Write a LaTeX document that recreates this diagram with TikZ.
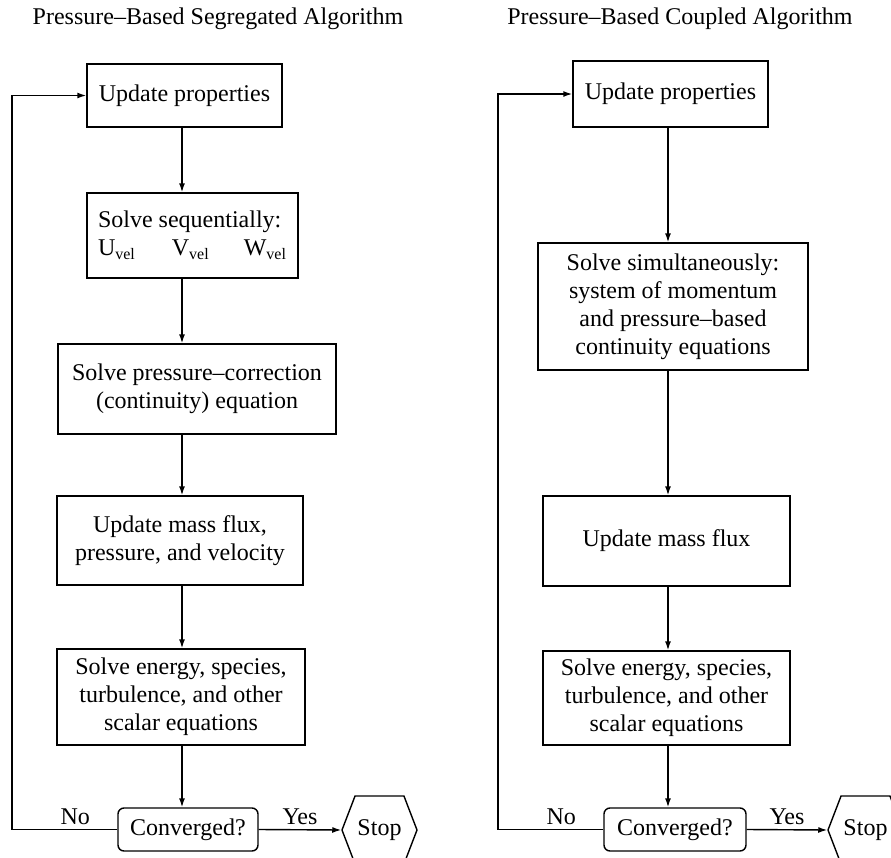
\documentclass[tikz,border=0pt]{standalone}
\usepackage{fontspec}
\setmainfont{Liberation Serif}
\usetikzlibrary{arrows.meta,shapes.symbols}

\begin{document}
\begin{tikzpicture}[x=0.5pt,y=-0.5pt,line width=0.7pt,
        font=\fontsize{12}{14}\selectfont,
        box/.style={draw,rectangle,align=center,inner sep=2pt},
        roundbox/.style={draw,rectangle,rounded corners=3pt,inner sep=2pt,minimum width=70pt,minimum height=21.5pt},
        stopbox/.style={draw,signal,signal to=west and east,signal pointer angle=138,minimum width=37.5pt,minimum height=34pt,inner sep=1pt},
        lbl/.style={inner sep=2pt},
        arr/.style={-{Latex[length=4.5pt,width=3pt]}}]
    \useasboundingbox (0,0) rectangle (891,858);

    % titles
    \node (ttlL) at (218,19) {Pressure--Based Segregated Algorithm};
    \node (ttlR) at (680,19) {Pressure--Based Coupled Algorithm};

    % segregated
    \coordinate (colL) at (182,0);
    \coordinate (loopL) at (12,0);
    \node [box,minimum width=97.5pt,minimum height=31.5pt] (updL) at (184.5,95.5) {Update properties};
    \node [box,align=left,minimum width=105.5pt,minimum height=42.5pt] (seqL) at (192.5,235.5) {Solve sequentially:\\U\textsubscript{vel}\hspace{18pt}V\textsubscript{vel}\hspace{17pt}W\textsubscript{vel}};
    \node [box,minimum width=139pt,minimum height=45pt] (presL) at (197,389) {Solve pressure--correction\\(continuity) equation};
    \node [box,minimum width=123pt,minimum height=44.5pt] (massL) at (180,540.5) {Update mass flux,\\pressure, and velocity};
    \node [box,minimum width=124pt,minimum height=48pt] (enL) at (181,697) {Solve energy, species,\\turbulence, and other\\scalar equations};
    \node [roundbox] (convL) at (188,829.5) {Converged?};
    \node [stopbox] (stopL) at (379.5,830) {Stop};

    \draw [arr] (updL.south -| colL) -- (seqL.north -| colL);
    \draw [arr] (seqL.south -| colL) -- (presL.north -| colL);
    \draw [arr] (presL.south -| colL) -- (massL.north -| colL);
    \draw [arr] (massL.south -| colL) -- (enL.north -| colL);
    \draw [arr] (enL.south -| colL) -- (convL.north -| colL);
    \draw [arr] (convL.east) -- node [lbl,above] {Yes} (stopL.west);
    \draw [arr] (convL.west) -- node [lbl,above,pos=0.4] {No} (convL.west -| loopL) |- (updL.west);

    % coupled
    \coordinate (colR) at (668,0);
    \coordinate (loopR) at (498,0);
    \node [box,minimum width=97.5pt,minimum height=33pt] (updR) at (670.5,94) {Update properties};
    \node [box,minimum width=135pt,minimum height=63.5pt] (simR) at (673,306.5) {Solve simultaneously:\\system of momentum\\and pressure--based\\continuity equations};
    \node [box,minimum width=123.5pt,minimum height=45pt] (massR) at (666.5,541) {Update mass flux};
    \node [box,minimum width=123.5pt,minimum height=47pt] (enR) at (666.5,698) {Solve energy, species,\\turbulence, and other\\scalar equations};
    \node [roundbox,minimum width=71pt] (convR) at (675,829.5) {Converged?};
    \node [stopbox] (stopR) at (865.5,830) {Stop};

    \draw [arr] (updR.south -| colR) -- (simR.north -| colR);
    \draw [arr] (simR.south -| colR) -- (massR.north -| colR);
    \draw [arr] (massR.south -| colR) -- (enR.north -| colR);
    \draw [arr] (enR.south -| colR) -- (convR.north -| colR);
    \draw [arr] (convR.east) -- node [lbl,above] {Yes} (stopR.west);
    \draw [arr] (convR.west) -- node [lbl,above,pos=0.4] {No} (convR.west -| loopR) |- (updR.west);
\end{tikzpicture}
\end{document}
